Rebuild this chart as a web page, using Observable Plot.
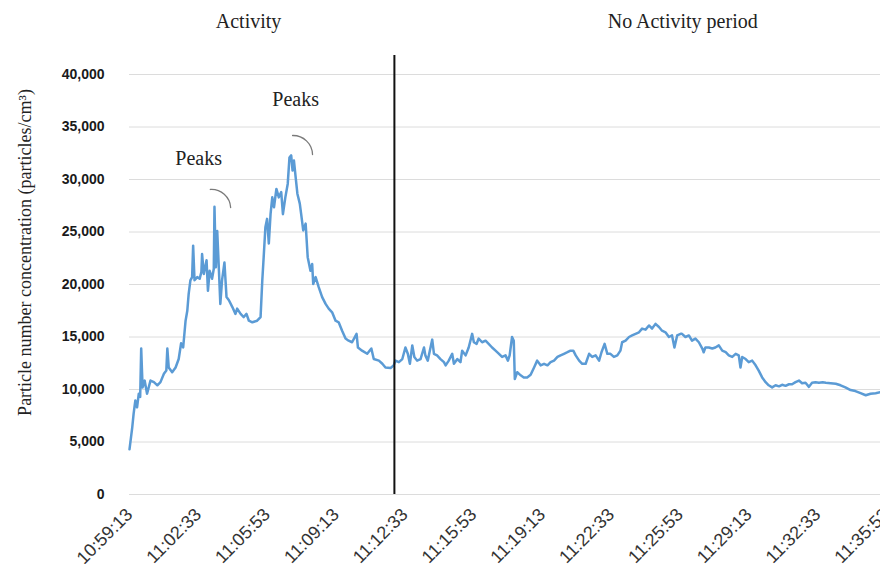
<!DOCTYPE html>
<html>
<head>
<meta charset="utf-8">
<script src="https://cdn.jsdelivr.net/npm/d3@7"></script>
<script src="https://cdn.jsdelivr.net/npm/@observablehq/plot@0.6"></script>
<style>
  html, body { margin: 0; padding: 0; background: #fff; }
  #chart { width: 880px; height: 564px; }
</style>
</head>
<body>
<div id="chart"></div>
<script>
// Seconds elapsed since 10:59:13 and particle number concentration (particles/cm³)
const elapsed = [0,8,12,17,22,27,31,34,38,44,51,61,71,81,90,100,107,110,114,124,134,143,150,156,163,168,172,177,182,185,189,197,204,209,211,216,224,228,233,240,245,247,251,255,260,264,269,276,282,289,299,308,313,323,332,340,347,357,371,381,386,390,395,400,405,410,415,420,427,434,441,446,453,460,465,470,474,478,483,488,495,499,505,512,518,526,531,534,541,550,560,570,579,589,599,608,618,628,637,647,660,664,676,691,703,710,725,735,744,759,768,773,783,793,802,809,815,822,828,836,846,856,860,867,873,880,885,894,904,914,919,928,938,943,953,962,967,977,986,996,1001,1009,1015,1025,1035,1044,1054,1064,1074,1083,1093,1100,1105,1112,1117,1120,1127,1137,1146,1156,1166,1176,1185,1195,1205,1215,1224,1234,1244,1253,1263,1273,1282,1290,1297,1307,1316,1326,1336,1345,1355,1365,1372,1381,1389,1398,1408,1418,1427,1432,1442,1452,1461,1471,1481,1490,1500,1510,1519,1529,1539,1548,1558,1568,1577,1584,1592,1602,1606,1616,1626,1635,1645,1655,1665,1669,1674,1684,1694,1703,1713,1723,1733,1742,1752,1762,1771,1776,1781,1791,1800,1810,1820,1829,1839,1849,1858,1868,1878,1888,1897,1907,1917,1926,1936,1946,1955,1965,1975,1984,1994,2004,2015,2024,2038,2053,2067,2081,2096,2110,2125,2140,2154,2169,2183];
const concentration = [4300,6400,7700,8950,8300,9600,9300,13900,10200,10850,9600,10850,10700,10400,10700,11500,11800,13900,12100,11650,12100,12900,14400,14000,16550,17500,19100,20400,20700,23700,20400,20700,20550,21200,22900,21000,22300,19400,21300,20550,21500,27400,21650,25100,21300,18150,20400,22100,18800,18500,17850,17200,17700,17200,16900,17200,16550,16400,16550,16900,20400,22600,25450,26250,23900,26700,28300,27350,29100,28300,28800,26700,28300,29600,32100,32300,30850,31800,30200,28650,27700,26700,25150,25800,22600,21300,21950,20050,20700,19750,18800,18150,17700,17350,16550,16400,15600,14850,14650,14500,15300,14000,13700,13400,13900,12900,12750,12450,12100,12050,12300,12750,12600,12900,14000,13400,12450,14200,13100,12750,12900,14000,13250,12750,13700,14750,13400,13250,12900,12600,12300,12750,13400,12450,12900,12600,13700,13250,14000,15300,14500,14350,14850,14500,14650,14350,14000,13700,13400,13100,13250,12750,13250,15000,14650,11000,11650,11350,11150,11150,11400,12100,12750,12300,12450,12300,12600,12750,13100,13250,13400,13550,13700,13700,13250,12750,12450,12450,13400,13100,13250,12750,13550,14350,13400,13400,13100,13250,13700,14500,14650,15000,15150,15300,15450,15800,15700,16100,15800,16250,15950,15600,15450,15000,15150,14000,15150,15300,15300,15000,15150,14650,14850,14500,13900,13550,14000,14000,13900,14000,14200,13700,13550,13250,13100,13400,13250,12100,13100,12900,12600,12750,12300,11800,11150,10700,10400,10200,10400,10300,10450,10350,10500,10500,10700,10850,10600,10650,10250,10650,10700,10650,10700,10650,10600,10550,10400,10200,9950,9850,9650,9450,9600,9650,9750];

const tickLabels = ["10:59:13","11:02:33","11:05:53","11:09:13","11:12:33","11:15:53","11:19:13","11:22:33","11:25:53","11:29:13","11:32:33","11:35:53"];
const yTicks = [0,5000,10000,15000,20000,25000,30000,35000,40000];

const dividerTime = "11:12:03";
const periodLabels = ["Activity", "No Activity period"];
const periodTimes = ["11:04:59", "11:26:01"];
const periodLevel = 45000;

const peakLabels = ["Peaks", "Peaks"];
const peakTimes = ["11:02:34", "11:07:16"];
const peakLevels = [32000, 37600];
// curved marks next to the peaks: start and end
const arcStartTimes = ["11:03:08", "11:07:07"];
const arcStartLevels = [29050, 34190];
const arcEndTimes = ["11:04:07", "11:08:05"];
const arcEndLevels = [27330, 32380];

const yTitle = "Particle number concentration (particles/cm³)";

// ---- build ----
const day = "2020-01-01T";
const parseT = s => new Date(day + s + "Z");
const t0 = parseT("10:59:13");
const series = elapsed.map((s, i) => ({t: new Date(+t0 + s * 1000), v: concentration[i]}));
const tickDates = tickLabels.map(parseT);
const fmt = d3.utcFormat("%H:%M:%S");
const periods = periodLabels.map((l, i) => ({label: l, t: parseT(periodTimes[i]), v: periodLevel}));
const peaks = peakLabels.map((l, i) => ({label: l, t: parseT(peakTimes[i]), v: peakLevels[i]}));
const arcs = arcStartTimes.map((s, i) => ({
  t1: parseT(s), v1: arcStartLevels[i], t2: parseT(arcEndTimes[i]), v2: arcEndLevels[i]
}));
const serif = "'Liberation Serif', 'Times New Roman', serif";

const chart = Plot.plot({
  width: 880,
  height: 564,
  marginLeft: 129,
  marginRight: 0,
  marginTop: 74,
  marginBottom: 70,
  style: {fontFamily: "'Liberation Sans', Arial, sans-serif", background: "#fff", overflow: "hidden"},
  x: {type: "utc", domain: [t0, new Date(+t0 + 2183 * 1000)]},
  y: {domain: [0, 40000]},
  marks: [
    Plot.gridY(yTicks, {stroke: "#dcdcdc", strokeOpacity: 1, strokeWidth: 1}),
    Plot.axisY(yTicks, {tickSize: 0, tickPadding: 25, tickFormat: d3.format(","), fontSize: 14, fontWeight: "bold", fill: "#1a1a1a", label: null}),
    Plot.axisX(tickDates, {tickSize: 0, tickPadding: 17, tickRotate: -45, tickFormat: fmt, fontSize: 18, fill: "#333", label: null}),
    Plot.line(series, {x: "t", y: "v", stroke: "#5b9bd5", strokeWidth: 2.5, strokeLinejoin: "round"}),
    Plot.ruleX([parseT(dividerTime)], {y1: 0, y2: 41800, stroke: "#111", strokeWidth: 2}),
    Plot.text(periods, {x: "t", y: "v", text: "label", fontSize: 20, fontFamily: serif, fill: "#222"}),
    Plot.text(peaks, {x: "t", y: "v", text: "label", fontSize: 20, fontFamily: serif, fill: "#222"}),
    Plot.arrow(arcs, {x1: "t1", y1: "v1", x2: "t2", y2: "v2", bend: 45, headLength: 0, stroke: "#7a7a7a", strokeWidth: 1.3}),
    Plot.text([yTitle], {frameAnchor: "left", textAnchor: "middle", text: d => d, rotate: -90, dx: -104, dy: -32, fontSize: 18, fontFamily: serif, fill: "#222"})
  ]
});
document.getElementById("chart").appendChild(chart);
</script>
</body>
</html>
